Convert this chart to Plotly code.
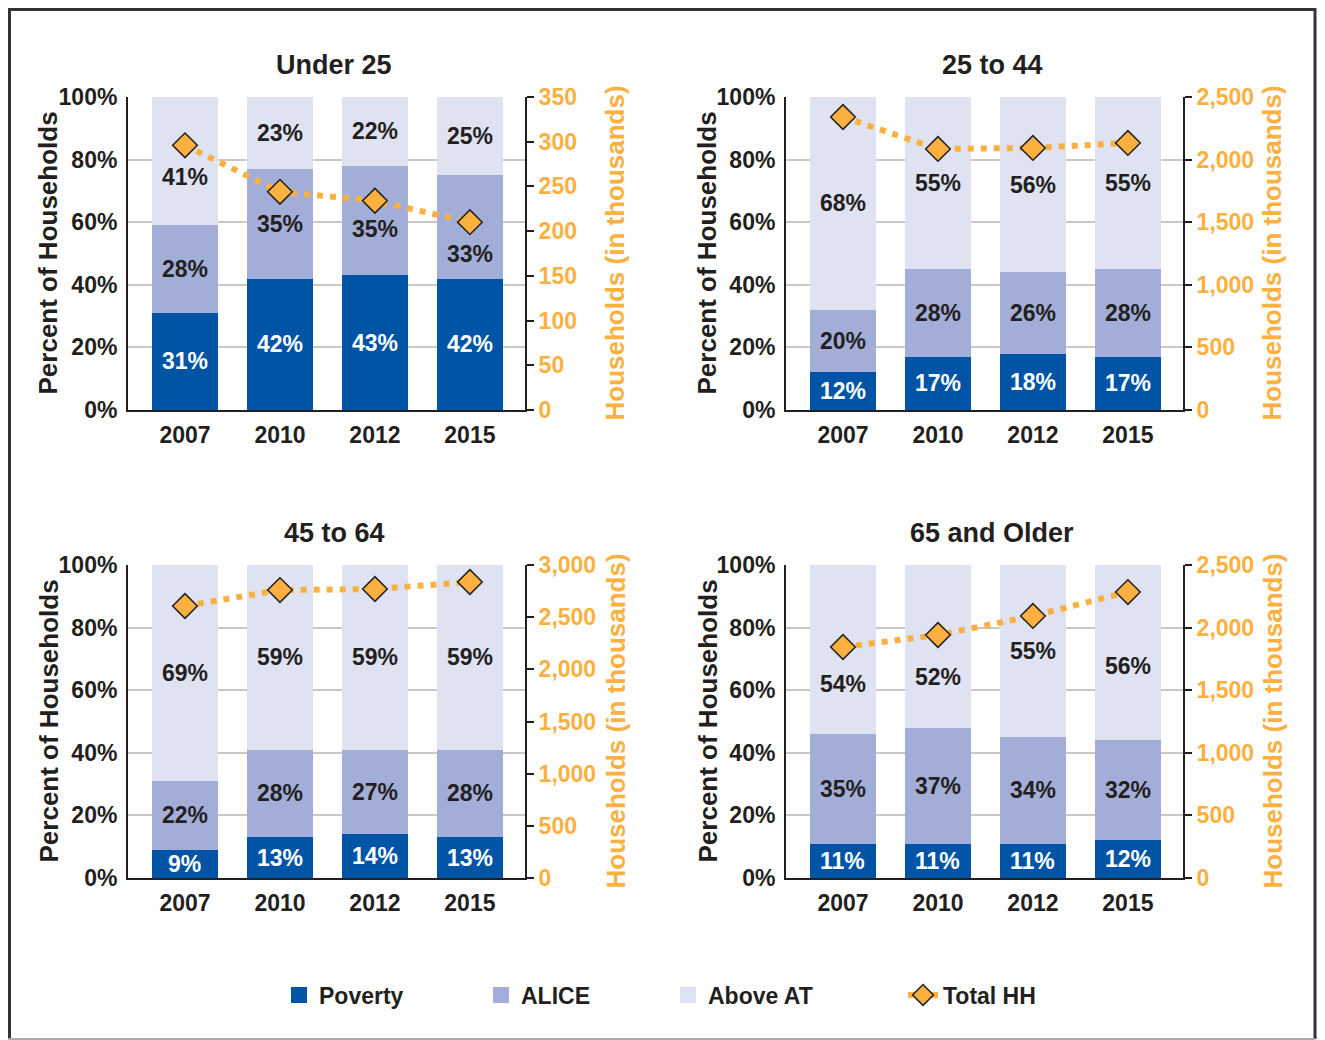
import plotly.graph_objects as go
from plotly.subplots import make_subplots

# ---------------- data ----------------
years = ["2007", "2010", "2012", "2015"]
panel_titles = ["Under 25", "25 to 44", "45 to 64", "65 and Older"]

poverty_u25 = [31, 42, 43, 42]
alice_u25 = [28, 35, 35, 33]
above_u25 = [41, 23, 22, 25]
total_u25 = [296, 244, 234, 210]

poverty_25_44 = [12, 17, 18, 17]
alice_25_44 = [20, 28, 26, 28]
above_25_44 = [68, 55, 56, 55]
total_25_44 = [2340, 2085, 2093, 2133]

poverty_45_64 = [9, 13, 14, 13]
alice_45_64 = [22, 28, 27, 28]
above_45_64 = [69, 59, 59, 59]
total_45_64 = [2607, 2760, 2770, 2837]

poverty_65 = [11, 11, 11, 12]
alice_65 = [35, 37, 34, 32]
above_65 = [54, 52, 55, 56]
total_65 = [1845, 1941, 2093, 2284]

hh_axis_max = [350, 2500, 3000, 2500]
hh_axis_dtick = [50, 500, 500, 500]
pct_ticks = [0, 20, 40, 60, 80, 100]
pct_tick_text = ["0%", "20%", "40%", "60%", "80%", "100%"]

series_names = ["Poverty", "ALICE", "Above AT", "Total HH"]
left_axis_title = "Percent of Households"
right_axis_title = "Households (in thousands)"

panels = [
    (poverty_u25, alice_u25, above_u25, total_u25),
    (poverty_25_44, alice_25_44, above_25_44, total_25_44),
    (poverty_45_64, alice_45_64, above_45_64, total_45_64),
    (poverty_65, alice_65, above_65, total_65),
]

# ---------------- style ----------------
C_POV = "#0054A6"
C_ALICE = "#A3AED8"
C_ABOVE = "#DFE2F1"
C_ORANGE = "#FBB040"
C_TEXT = "#231F20"
C_GRID = "#C8C8C8"
FONT = "Liberation Sans, Arial, sans-serif"
seg_colors = [C_POV, C_ALICE, C_ABOVE]
seg_text_colors = ["white", C_TEXT, C_TEXT]

# label nudges (pixels downward) to keep labels clear of the markers:
# key = (panel index, segment index, year index)
label_nudge = {(0, 2, 0): 16, (0, 1, 2): 8, (0, 1, 3): 27,
               (3, 2, 0): 34, (3, 2, 1): 31, (3, 2, 3): 13}
legend_widths = [157, 142, 190, 163]

W, H = 1325, 1040
OFF = 8  # page body margin


def fx(p):
    return (p - OFF) / W


def fy(p):
    return 1 - (p - OFF) / H


xd = [[fx(128), fx(525)], [fx(786), fx(1183)]]
yd = [[fy(410), fy(97)], [fy(878), fy(565)]]
left_title_x = [fx(48), fx(707)]
right_title_x = [fx(615), fx(1272)]
panel_title_x = [fx(334), fx(992)]
panel_title_y = [fy(65), fy(533)]

fig = make_subplots(rows=2, cols=2, specs=[[{"secondary_y": True}] * 2] * 2,
                    horizontal_spacing=0.05, vertical_spacing=0.1)

annotations = []
for i, (pov, ali, abv, tot) in enumerate(panels):
    r, c = i // 2 + 1, i % 2 + 1
    first = i == 0
    xref = "x" if i == 0 else f"x{i + 1}"
    yref = "y" if i == 0 else f"y{2 * i + 1}"
    base = [0, 0, 0, 0]
    for s, vals in enumerate([pov, ali, abv]):
        fig.add_trace(go.Bar(
            x=years, y=vals, name=series_names[s],
            marker=dict(color=seg_colors[s], line=dict(width=0)),
            width=0.7, showlegend=False, hoverinfo="skip"),
            row=r, col=c, secondary_y=False)
        for k, v in enumerate(vals):
            annotations.append(dict(
                x=k, y=base[k] + v / 2, xref=xref, yref=yref, text=f"{v}%",
                showarrow=False, xanchor="center", yanchor="middle",
                yshift=-label_nudge.get((i, s, k), 0),
                font=dict(family=FONT, size=23, color=seg_text_colors[s], weight="bold")))
            base[k] += v
    fig.add_trace(go.Scatter(
        x=years, y=tot, name=series_names[3], mode="lines+markers",
        line=dict(color=C_ORANGE, width=6, dash="6px,7px"),
        marker=dict(symbol="diamond", size=19, color=C_ORANGE,
                    line=dict(color=C_TEXT, width=1.5)),
        showlegend=False, cliponaxis=False),
        row=r, col=c, secondary_y=True)

    fig.update_xaxes(domain=xd[c - 1], range=[-0.6, 3.58], type="category",
                     showline=True, linecolor=C_TEXT, linewidth=2, ticks="",
                     showgrid=False, zeroline=False, ticklabelstandoff=3,
                     tickfont=dict(family=FONT, size=23, color=C_TEXT, weight="bold"),
                     row=r, col=c)
    fig.update_yaxes(domain=yd[r - 1], range=[0, 100], tickvals=pct_ticks,
                     ticktext=pct_tick_text, showline=True, linecolor=C_TEXT, linewidth=2,
                     showgrid=True, gridcolor=C_GRID, gridwidth=2, zeroline=False,
                     ticks="", ticklabelstandoff=4,
                     tickfont=dict(family=FONT, size=23, color=C_TEXT, weight="bold"),
                     row=r, col=c, secondary_y=False)
    fig.update_yaxes(domain=yd[r - 1], range=[0, hh_axis_max[i]], dtick=hh_axis_dtick[i],
                     tickformat=",", showline=True, linecolor=C_TEXT, linewidth=2,
                     showgrid=False, zeroline=False, ticks="outside", ticklen=7,
                     tickwidth=2, tickcolor=C_TEXT,
                     tickfont=dict(family=FONT, size=23, color=C_ORANGE, weight="bold"),
                     row=r, col=c, secondary_y=True)

    ymid = (yd[r - 1][0] + yd[r - 1][1]) / 2
    annotations.append(dict(
        text=left_axis_title, x=left_title_x[c - 1], y=ymid, xref="paper", yref="paper",
        xanchor="center", yanchor="middle", textangle=-90, showarrow=False,
        font=dict(family=FONT, size=26, color=C_TEXT, weight="bold")))
    annotations.append(dict(
        text=right_axis_title, x=right_title_x[c - 1], y=ymid, xref="paper", yref="paper",
        xanchor="center", yanchor="middle", textangle=-90, showarrow=False,
        font=dict(family=FONT, size=26, color=C_ORANGE, weight="bold")))
    annotations.append(dict(
        text=panel_titles[i], x=panel_title_x[c - 1], y=panel_title_y[r - 1],
        xref="paper", yref="paper", xanchor="center", yanchor="middle", showarrow=False,
        font=dict(family=FONT, size=27, color=C_TEXT, weight="bold")))

# legend entries (bigger square swatches than the default bar swatch)
for s in range(3):
    fig.add_trace(go.Scatter(
        x=[None], y=[None], mode="markers", name=series_names[s],
        marker=dict(symbol="square", size=16, color=seg_colors[s], line=dict(width=0)),
        legendwidth=legend_widths[s], hoverinfo="skip"), row=1, col=1)
fig.add_trace(go.Scatter(
    x=[None], y=[None], mode="lines+markers", name=series_names[3],
    line=dict(color=C_ORANGE, width=6),
    marker=dict(symbol="diamond", size=16, color=C_ORANGE, line=dict(color=C_TEXT, width=1.5)),
    legendwidth=legend_widths[3], hoverinfo="skip"), row=1, col=1, secondary_y=True)

shapes = [
    dict(type="line", xref="paper", yref="paper", x0=0, x1=fx(1316), y0=1 - 1.5 / H, y1=1 - 1.5 / H,
         line=dict(color="#333333", width=3)),
    dict(type="line", xref="paper", yref="paper", x0=1.5 / W, x1=1.5 / W, y0=1, y1=fy(1039),
         line=dict(color="#333333", width=3)),
    dict(type="line", xref="paper", yref="paper", x0=fx(1315), x1=fx(1315), y0=1, y1=fy(1039),
         line=dict(color="#333333", width=3)),
    dict(type="line", xref="paper", yref="paper", x0=0, x1=fx(1315), y0=fy(1039), y1=fy(1039),
         line=dict(color="#AAAAAA", width=2)),
]

fig.update_layout(
    width=W, height=H, margin=dict(l=0, r=0, t=0, b=0, autoexpand=False),
    paper_bgcolor="white", plot_bgcolor="white",
    barmode="stack", bargap=0.3,
    annotations=annotations, shapes=shapes,
    legend=dict(orientation="h", x=fx(279), xanchor="left", y=fy(995), yanchor="middle",
                font=dict(family=FONT, size=23, color=C_TEXT, weight="bold"),
                traceorder="normal", itemclick=False, itemsizing="trace"),
    hovermode=False,
)

fig.write_html("out.html")
